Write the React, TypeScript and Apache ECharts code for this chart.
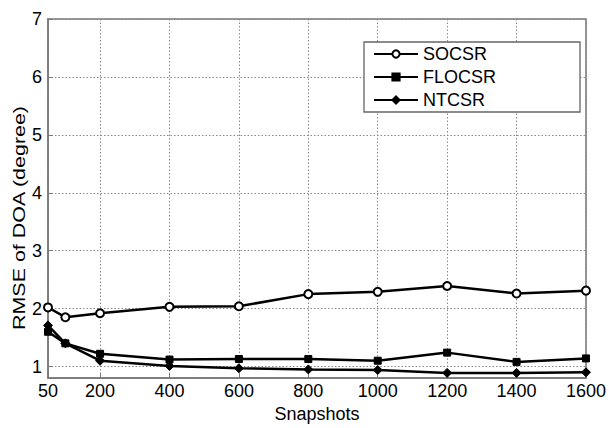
import React, { useEffect, useRef } from "react";
import * as echarts from "echarts";

const snapshots = [50, 100, 200, 400, 600, 800, 1000, 1200, 1400, 1600];
const socsr = [2.02, 1.85, 1.92, 2.03, 2.04, 2.25, 2.29, 2.39, 2.26, 2.31];
const flocsr = [1.6, 1.4, 1.22, 1.12, 1.13, 1.13, 1.1, 1.24, 1.08, 1.14];
const ntcsr = [1.71, 1.4, 1.1, 1.01, 0.97, 0.95, 0.94, 0.89, 0.89, 0.9];
const seriesNames = ["SOCSR", "FLOCSR", "NTCSR"];
const xTitle = "Snapshots";
const yTitle = "RMSE of DOA (degree)";

const FONT = "'Liberation Sans', Arial, sans-serif";

export default function App() {
  const ref = useRef<HTMLDivElement>(null);
  useEffect(() => {
    document.body.style.margin = "0";
    const chart = echarts.init(ref.current!, null, { renderer: "svg" });
    const toPairs = (arr: number[]) => snapshots.map((x, i) => [x, arr[i]]);
    const common = {
      type: "line",
      lineStyle: { color: "#000", width: 2.5 },
      color: "#000",
      z: 3,
    };
    chart.setOption({
      animation: false,
      backgroundColor: "#fff",
      grid: {
        left: 48,
        right: 20,
        top: 19,
        bottom: 44.5,
        show: true,
        borderColor: "#777",
        borderWidth: 1.5,
      },
      legend: {
        orient: "vertical",
        left: 364,
        top: 42,
        padding: [3, 84, 3, 9],
        itemWidth: 44,
        itemHeight: 9,
        itemGap: 5,
        backgroundColor: "#fff",
        borderColor: "#666",
        borderWidth: 1.3,
        textStyle: { fontSize: 18, color: "#000", fontFamily: FONT },
        data: seriesNames,
      },
      xAxis: {
        type: "value",
        min: 50,
        max: 1600,
        splitNumber: 8,
        name: xTitle,
        nameLocation: "middle",
        nameGap: 22,
        nameTextStyle: { fontSize: 18, color: "#000", fontFamily: FONT },
        axisLine: { show: true, lineStyle: { color: "#777", width: 1.5 } },
        axisTick: { show: true, inside: true, length: 5, lineStyle: { color: "#777" } },
        axisLabel: {
          fontSize: 18,
          color: "#000",
          fontFamily: FONT,
          margin: 4,
          formatter: (v: number) => String(v),
        },
        splitLine: { show: true, lineStyle: { color: "#888", width: 1, type: [1.5, 2] } },
      },
      yAxis: {
        type: "value",
        min: 0.8,
        max: 7,
        splitNumber: 6,
        axisLine: { show: true, lineStyle: { color: "#777", width: 1.5 } },
        axisTick: { show: true, inside: true, length: 5, lineStyle: { color: "#777" } },
        axisLabel: {
          fontSize: 18,
          color: "#000",
          fontFamily: FONT,
          margin: 6,
          showMinLabel: false,
          formatter: (v: number) => (Math.abs(v - Math.round(v)) < 1e-6 ? String(Math.round(v)) : ""),
        },
        splitLine: { show: true, lineStyle: { color: "#888", width: 1, type: [1.5, 2] } },
      },
      graphic: [
        {
          type: "text",
          x: 19,
          y: 218,
          rotation: Math.PI / 2,
          scaleX: 1.3,
          style: {
            text: yTitle,
            fontSize: 16.5,
            fontFamily: FONT,
            fill: "#000",
            align: "center",
            verticalAlign: "middle",
          },
        },
      ],
      series: [
        {
          ...common,
          name: seriesNames[0],
          data: toPairs(socsr),
          symbol: "circle",
          symbolSize: 8,
          itemStyle: { color: "#fff", borderColor: "#000", borderWidth: 2 },
        },
        {
          ...common,
          name: seriesNames[1],
          data: toPairs(flocsr),
          symbol: "rect",
          symbolSize: 7,
          itemStyle: { color: "#000", borderColor: "#000", borderWidth: 1 },
        },
        {
          ...common,
          name: seriesNames[2],
          data: toPairs(ntcsr),
          symbol: "diamond",
          symbolSize: 9,
          itemStyle: { color: "#000", borderColor: "#000", borderWidth: 1 },
        },
      ],
    });
    return () => chart.dispose();
  }, []);
  return (
    <div
      ref={ref}
      style={{ position: "fixed", left: 0, top: 0, width: 609, height: 428 }}
    />
  );
}
